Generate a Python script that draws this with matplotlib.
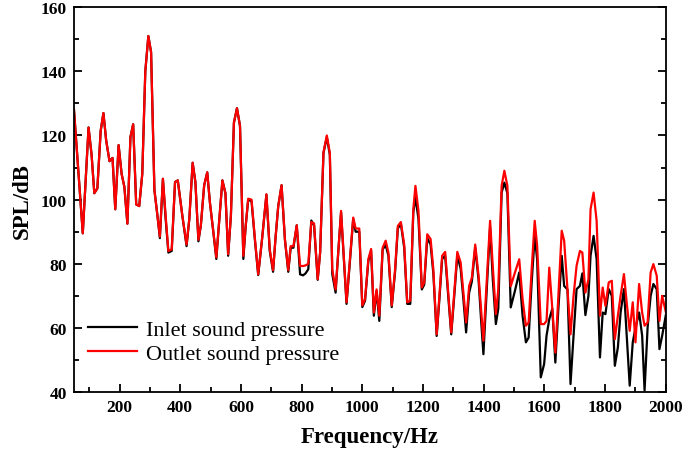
import matplotlib
matplotlib.use('Agg')
import matplotlib.pyplot as plt
from matplotlib.ticker import MultipleLocator

# frequency points (Hz)
freq = [50, 79, 98, 108, 117, 127, 138, 147, 156, 167, 177, 186, 197, 207, 216, 226, 236, 245,
        255, 265, 275, 285, 295, 304, 315, 325, 333, 343, 352, 361, 372, 383, 392, 400, 407, 421,
        430, 441, 450, 460, 468, 479, 489, 498, 509, 519, 529, 539, 549, 558, 567, 577, 587, 597,
        608, 616, 624, 635, 646, 657, 670, 684, 695, 706, 714, 723, 734, 745, 756, 764, 773, 784,
        795, 805, 813, 822, 832, 841, 853, 861, 872, 883, 893, 901, 912, 921, 930, 939, 948, 959,
        970, 978, 990, 1000, 1009, 1020, 1029, 1038, 1047, 1056, 1067, 1077, 1086, 1097, 1108,
        1117, 1127, 1138, 1148, 1158, 1168, 1175, 1185, 1196, 1204, 1214, 1225, 1234, 1245, 1254,
        1263, 1273, 1283, 1293, 1303, 1313, 1324, 1333, 1342, 1352, 1361, 1372, 1383, 1391, 1399,
        1410, 1421, 1430, 1440, 1448, 1459, 1468, 1478, 1489, 1503, 1517, 1528, 1539, 1548, 1558,
        1568, 1576, 1588, 1599, 1607, 1616, 1626, 1636, 1646, 1657, 1665, 1676, 1686, 1696, 1706,
        1717, 1725, 1735, 1745, 1752, 1762, 1772, 1783, 1792, 1801, 1812, 1822, 1832, 1842, 1851,
        1862, 1871, 1881, 1891, 1900, 1912, 1922, 1930, 1940, 1950, 1959, 1970, 1979, 1988, 2000]

# outlet (red)
outlet = [128, 89.5, 122.5, 114, 102, 103.5, 121.5, 127, 118.5, 112, 113, 97, 117, 108, 104, 92.5,
          119.5, 123.5, 98.5, 98, 108, 140, 151, 146, 103, 95, 88.5, 106.5, 95, 84, 84.5, 105.5,
          106, 100, 95, 86, 94, 111.5, 105.5, 87.5, 92, 104.5, 108.5, 99, 90, 82, 94, 106, 102, 83,
          95, 124, 128.5, 123, 82.5, 92, 100.3, 100, 88, 76.7, 88, 101.7, 84.5, 78, 88, 98, 104.5,
          87.7, 78, 85.5, 85.5, 92, 79.3, 79.3, 79.5, 80, 93, 92.6, 75.2, 83.5, 114.7, 120, 114.5,
          78.3, 72, 84, 96.5, 82, 68, 81, 94.4, 91, 91, 67, 69, 81.5, 84.6, 64.8, 72, 63.8, 85,
          87.2, 83.5, 67, 78.3, 91.8, 93, 86, 68, 68.5, 97, 104.3, 96.5, 72.6, 74.2, 89.2, 87.7,
          78.3, 58, 70, 82.5, 83.7, 71, 58.6, 71, 83.7, 80.4, 71, 61.7, 73.1, 75.7, 86, 76.3, 66,
          56, 75, 93.4, 79, 64.3, 72, 104.3, 109, 104.3, 73, 77.3, 81.4, 69, 60.7, 61.7, 78.3,
          93.4, 85.6, 61.2, 61.2, 62.2, 78.8, 66, 52.3, 70, 90.3, 87.2, 72, 58, 70, 79.4, 84, 83.5,
          71, 75.2, 97, 102.2, 93.4, 63.8, 72.6, 66.9, 74.2, 74.7, 56.5, 63.8, 70, 76.8, 68, 59.1,
          68, 55.5, 73.7, 64.8, 60.7, 61.7, 77.3, 79.9, 76.3, 62.2, 70, 65]

# inlet (black)
inlet = [128, 89.5, 122.5, 114, 102, 103.5, 121.5, 127, 118.5, 112, 113, 97, 117, 108, 104, 92.5,
         119.5, 123.5, 98.5, 98, 108, 140, 151, 146, 103, 95, 88, 106.5, 94, 83.5, 84, 105.5,
         106, 100, 95, 85.5, 94, 111.5, 105.5, 87, 92, 104.5, 108.5, 99, 90, 81.5, 94, 106, 102,
         82.5, 95, 124, 128.5, 123, 81.5, 92, 100, 99.5, 87.5, 76.5, 88, 101.5, 84, 77.5, 88, 98,
         104.5, 87.5, 77.5, 85, 85, 92, 76.7, 76.4, 77, 78.3, 93.5, 92, 75, 83.5, 114.5, 119.5,
         114, 76.8, 71, 84, 96, 82, 67.5, 80.5, 94, 90, 90, 66.5, 68.5, 81, 84, 63.8, 71.5, 62.2,
         84.5, 85.8, 82.5, 66.5, 77.5, 91, 92.5, 85, 67.5, 67.5, 96, 100.7, 94, 72, 73.5, 88, 86,
         77, 57.5, 69, 81.5, 82.5, 70, 58, 70, 82.5, 78.5, 69, 58.6, 71, 74.5, 85, 75, 63, 51.8,
         72, 91.5, 75, 61.2, 66, 102.2, 105.3, 102, 66.4, 71.6, 77.3, 63.8, 55.5, 57, 74.2, 88.7,
         81.4, 44.6, 48.7, 57.6, 62.7, 66, 49.2, 66, 82.5, 73.1, 72, 42.5, 57.6, 72.1, 73.1, 77,
         64, 70, 82.5, 88.7, 81.4, 50.8, 64.8, 64.3, 72.1, 70, 48.2, 53.9, 64.8, 72.1, 57.6, 42,
         55.5, 60, 64.8, 57.6, 40.5, 60.2, 70, 73.7, 72.1, 53.4, 57.6, 64]

plt.rcParams['font.family'] = ['Liberation Serif', 'DejaVu Serif']

fig = plt.figure(figsize=(6.85, 4.56), dpi=100)
ax = fig.add_axes([0.108, 0.138, 0.864, 0.844])

ax.plot(freq, inlet, color='black', lw=1.6, label='Inlet sound pressure')
ax.plot(freq, outlet, color='#ff0000', lw=1.6, label='Outlet sound pressure')

ax.set_xlim(50, 2000)
ax.set_ylim(40, 160)
ax.xaxis.set_major_locator(MultipleLocator(200))
ax.xaxis.set_minor_locator(MultipleLocator(100))
ax.yaxis.set_major_locator(MultipleLocator(20))
ax.yaxis.set_minor_locator(MultipleLocator(10))
ax.tick_params(which='both', direction='in', right=True, width=1.3)
ax.tick_params(which='major', length=6, labelsize=12.5, pad=5)
ax.tick_params(which='minor', length=3.5)
for lab in ax.get_xticklabels() + ax.get_yticklabels():
    lab.set_fontweight('bold')
for sp in ax.spines.values():
    sp.set_linewidth(1.3)

ax.set_xlabel('Frequency/Hz', fontsize=16.5, fontweight='bold', labelpad=8)
ax.set_ylabel('SPL/dB', fontsize=16.5, fontweight='bold', labelpad=6)

ax.legend(loc='lower left', bbox_to_anchor=(-0.014, 0.016), frameon=False, fontsize=16,
          handlelength=2.2, handletextpad=0.4, labelspacing=0.15, borderaxespad=0.6)

fig.savefig('out.png', dpi=100)
